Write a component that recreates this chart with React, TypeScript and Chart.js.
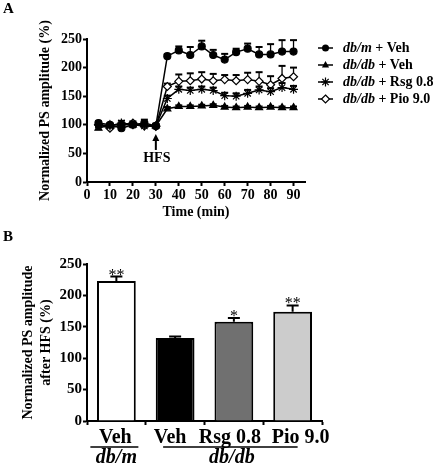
import React, { useEffect, useRef } from 'react';
import { Chart, registerables } from 'chart.js';

Chart.register(...registerables);

const FONT = "'Liberation Serif', 'Times New Roman', serif";

// ---------- Panel A data ----------
const times = [5, 10, 15, 20, 25, 30, 35, 40, 45, 50, 55, 60, 65, 70, 75, 80, 85, 90];
const xTicks = [0, 10, 20, 30, 40, 50, 60, 70, 80, 90];

const dbmVeh = [103, 100, 94, 100, 103, 98, 220, 230, 222, 237, 222, 214, 227, 233, 223, 223, 228, 228];
const dbmVehErr = [3, 2, 3, 3, 6, 3, 3, 7, 14, 10, 9, 10, 6, 9, 13, 18, 20, 20];

const dbdbVeh = [94, 100, 100, 100, 100, 98, 128, 132, 132, 133, 134, 131, 130, 131, 130, 131, 130, 130];
const dbdbVehErr = [3, 2, 2, 2, 2, 2, 3, 2, 2, 2, 2, 2, 2, 2, 2, 2, 2, 2];

const dbdbRsg = [100, 98, 103, 100, 98, 98, 146, 162, 160, 162, 160, 151, 150, 155, 161, 158, 165, 162];
const dbdbRsgErr = [3, 3, 4, 3, 3, 3, 5, 5, 5, 5, 5, 5, 5, 6, 6, 6, 8, 6];

const dbdbPio = [100, 94, 100, 103, 98, 97, 167, 176, 177, 180, 177, 179, 177, 179, 176, 170, 181, 184];
const dbdbPioErr = [3, 3, 3, 3, 3, 3, 5, 12, 13, 12, 12, 8, 10, 12, 16, 15, 22, 16];

const legendItalic = ['db/m', 'db/db', 'db/db', 'db/db'];
const legendRest = [' + Veh', ' + Veh', ' + Rsg 0.8', ' + Pio 9.0'];
const markerStyles = ['circle', 'triangle', 'star', 'rectRot'];

// ---------- Panel B data ----------
const barLabels = ['Veh', 'Veh', 'Rsg 0.8', 'Pio 9.0'];
const barValues = [223, 132, 158, 174];
const barErr = [7, 2.5, 6, 10];
const barSig = ['**', '', '*', '**'];
const barColors = ['#ffffff', '#000000', '#707070', '#cccccc'];
const groupLabels = ['db/m', 'db/db'];

const seriesA = [
  { values: dbmVeh, err: dbmVehErr },
  { values: dbdbVeh, err: dbdbVehErr },
  { values: dbdbRsg, err: dbdbRsgErr },
  { values: dbdbPio, err: dbdbPioErr },
];

function drawMarker(ctx: CanvasRenderingContext2D, style: string, x: number, y: number) {
  ctx.save();
  ctx.strokeStyle = '#000';
  ctx.fillStyle = '#000';
  ctx.lineWidth = 1.2;
  ctx.beginPath();
  if (style === 'circle') {
    ctx.arc(x, y, 3.5, 0, Math.PI * 2);
    ctx.fill();
  } else if (style === 'triangle') {
    const r = 4;
    ctx.moveTo(x, y - r);
    ctx.lineTo(x + r * 0.9, y + r * 0.6);
    ctx.lineTo(x - r * 0.9, y + r * 0.6);
    ctx.closePath();
    ctx.fill();
  } else if (style === 'star') {
    const r = 4.5;
    for (let k = 0; k < 4; k++) {
      const a = (k * Math.PI) / 4;
      ctx.moveTo(x + r * Math.cos(a), y + r * Math.sin(a));
      ctx.lineTo(x - r * Math.cos(a), y - r * Math.sin(a));
    }
    ctx.stroke();
  } else if (style === 'rectRot') {
    const r = 4;
    ctx.moveTo(x, y - r);
    ctx.lineTo(x + r, y);
    ctx.lineTo(x, y + r);
    ctx.lineTo(x - r, y);
    ctx.closePath();
    ctx.fillStyle = '#fff';
    ctx.fill();
    ctx.stroke();
  }
  ctx.restore();
}

const errorBarsA = {
  id: 'errorBarsA',
  beforeDatasetsDraw(chart: any) {
    const { ctx, scales } = chart;
    const xs = scales.x;
    const ys = scales.y;
    ctx.save();
    ctx.strokeStyle = '#000';
    seriesA.forEach((s) => {
      s.values.forEach((v, i) => {
        const x = xs.getPixelForValue(times[i]);
        const y0 = ys.getPixelForValue(v);
        const y1 = ys.getPixelForValue(v + s.err[i]);
        ctx.lineWidth = 1.3;
        ctx.beginPath();
        ctx.moveTo(x, y0);
        ctx.lineTo(x, y1);
        ctx.stroke();
        ctx.lineWidth = 2;
        ctx.beginPath();
        ctx.moveTo(x - 3.5, y1);
        ctx.lineTo(x + 3.5, y1);
        ctx.stroke();
      });
    });
    ctx.restore();
  },
};

const decorA = {
  id: 'decorA',
  afterDraw(chart: any) {
    const { ctx, scales } = chart;
    const xs = scales.x;
    const ys = scales.y;
    ctx.save();
    // panel letter
    ctx.fillStyle = '#000';
    ctx.font = `bold 15px ${FONT}`;
    ctx.textAlign = 'left';
    ctx.textBaseline = 'middle';
    ctx.fillText('A', 3, 9);

    // HFS arrow
    const ax = xs.getPixelForValue(30);
    const tip = ys.getPixelForValue(84);
    const tail = ys.getPixelForValue(56);
    ctx.strokeStyle = '#000';
    ctx.lineWidth = 2;
    ctx.beginPath();
    ctx.moveTo(ax, tip + 5);
    ctx.lineTo(ax, tail);
    ctx.stroke();
    ctx.beginPath();
    ctx.moveTo(ax, tip);
    ctx.lineTo(ax + 3.5, tip + 7);
    ctx.lineTo(ax - 3.5, tip + 7);
    ctx.closePath();
    ctx.fill();
    ctx.font = `bold 14px ${FONT}`;
    ctx.textAlign = 'center';
    ctx.fillText('HFS', ax + 1, ys.getPixelForValue(42));

    // legend
    const lx0 = 318;
    const lx1 = 333;
    const tx = 343;
    const rowY = [48, 65, 82, 99];
    rowY.forEach((y, i) => {
      ctx.strokeStyle = '#000';
      ctx.lineWidth = 1.5;
      ctx.beginPath();
      ctx.moveTo(lx0, y);
      ctx.lineTo(lx1, y);
      ctx.stroke();
      drawMarker(ctx, markerStyles[i], (lx0 + lx1) / 2, y);
      ctx.textAlign = 'left';
      ctx.textBaseline = 'middle';
      ctx.fillStyle = '#000';
      ctx.font = `italic bold 14px ${FONT}`;
      ctx.fillText(legendItalic[i], tx, y);
      const w = ctx.measureText(legendItalic[i]).width;
      ctx.font = `bold 14px ${FONT}`;
      ctx.fillText(legendRest[i], tx + w, y);
    });
    ctx.restore();
  },
};

const errorBarsB = {
  id: 'errorBarsB',
  afterDatasetsDraw(chart: any) {
    const { ctx, scales } = chart;
    const xs = scales.x;
    const ys = scales.y;
    ctx.save();
    ctx.strokeStyle = '#000';
    ctx.fillStyle = '#000';
    ctx.lineWidth = 2;
    barValues.forEach((v, i) => {
      const x = xs.getPixelForValue(i);
      const y0 = ys.getPixelForValue(v);
      const y1 = ys.getPixelForValue(v + barErr[i]);
      ctx.beginPath();
      ctx.moveTo(x, y0);
      ctx.lineTo(x, y1);
      ctx.moveTo(x - 6, y1);
      ctx.lineTo(x + 6, y1);
      ctx.stroke();
      if (barSig[i]) {
        ctx.font = `16px ${FONT}`;
        ctx.textAlign = 'center';
        ctx.textBaseline = 'alphabetic';
        ctx.fillText(barSig[i], x, y1 + 3);
      }
    });
    ctx.restore();
  },
  afterDraw(chart: any) {
    const { ctx, scales } = chart;
    const xs = scales.x;
    ctx.save();
    ctx.fillStyle = '#000';
    ctx.strokeStyle = '#000';
    ctx.font = `bold 15px ${FONT}`;
    ctx.textAlign = 'left';
    ctx.textBaseline = 'middle';
    ctx.fillText('B', 3, 11);

    // category labels (slightly shifted as in the original figure)
    const labelShift = [-1, -5, -4, 8];
    ctx.font = `bold 20px ${FONT}`;
    ctx.textAlign = 'center';
    barLabels.forEach((lab, i) => {
      ctx.fillText(lab, xs.getPixelForValue(i) + labelShift[i], 212);
    });

    const lineY = 221;
    const textY = 232;
    ctx.lineWidth = 1.5;
    ctx.beginPath();
    ctx.moveTo(xs.getPixelForValue(0) - 26, lineY);
    ctx.lineTo(xs.getPixelForValue(0) + 22, lineY);
    ctx.moveTo(xs.getPixelForValue(1) - 12, lineY);
    ctx.lineTo(xs.getPixelForValue(3) + 5, lineY);
    ctx.stroke();
    ctx.font = `italic bold 20px ${FONT}`;
    ctx.textAlign = 'center';
    ctx.fillText(groupLabels[0], xs.getPixelForValue(0), textY);
    ctx.fillText(groupLabels[1], xs.getPixelForValue(2) - 2, textY);
    ctx.restore();
  },
};

const axisGrid = {
  display: true,
  drawOnChartArea: false,
  drawTicks: true,
  tickLength: 4,
  tickWidth: 2,
  tickColor: '#000',
  color: '#000',
};
const axisBorder = { display: true, color: '#000', width: 2 };

export default function App() {
  const refA = useRef<HTMLCanvasElement>(null);
  const refB = useRef<HTMLCanvasElement>(null);

  useEffect(() => {
    const datasetsA = seriesA.map((s, i) => ({
      label: legendItalic[i] + legendRest[i],
      data: s.values.map((v, j) => ({ x: times[j], y: v })),
      borderColor: '#000',
      borderWidth: 1.5,
      tension: 0,
      pointStyle: markerStyles[i],
      pointRadius: i === 0 ? 3.5 : i === 2 ? 4.5 : 4,
      pointBorderWidth: 1.2,
      pointBackgroundColor: i === 3 ? '#fff' : '#000',
      pointBorderColor: '#000',
      fill: false,
    }));

    const chartA = new Chart(refA.current!, {
      type: 'line',
      data: { datasets: datasetsA as any },
      options: {
        responsive: false,
        animation: false,
        devicePixelRatio: 1,
        layout: { padding: { left: 0, right: 131, top: 39, bottom: 0 } },
        plugins: { legend: { display: false }, tooltip: { enabled: false } },
        scales: {
          x: {
            type: 'linear',
            min: 0,
            max: 95,
            afterBuildTicks: (s: any) => {
              s.ticks = xTicks.map((v) => ({ value: v }));
            },
            afterFit: (s: any) => {
              s.height = 44;
            },
            ticks: {
              color: '#000',
              font: { family: FONT, size: 14, weight: 'bold' },
              padding: 1,
              maxRotation: 0,
              autoSkip: false,
            },
            grid: axisGrid,
            border: axisBorder,
            title: {
              display: true,
              text: 'Time (min)',
              color: '#000',
              font: { family: FONT, size: 14, weight: 'bold' },
              padding: { top: 0, bottom: 5.6 },
            },
          },
          y: {
            min: 0,
            max: 250,
            afterFit: (s: any) => {
              s.width = 87;
            },
            ticks: {
              stepSize: 50,
              color: '#000',
              font: { family: FONT, size: 14, weight: 'bold' },
              padding: 1,
            },
            grid: axisGrid,
            border: axisBorder,
            title: {
              display: true,
              text: 'Normalized PS amplitude (%)',
              color: '#000',
              font: { family: FONT, size: 14, weight: 'bold' },
              padding: { top: 37, bottom: 0 },
            },
          },
        },
      } as any,
      plugins: [errorBarsA, decorA],
    });

    const chartB = new Chart(refB.current!, {
      type: 'bar',
      data: {
        labels: barLabels,
        datasets: [
          {
            data: barValues,
            backgroundColor: barColors,
            borderColor: '#000',
            borderWidth: 2,
            barPercentage: 0.66,
            categoryPercentage: 1,
          },
        ],
      },
      options: {
        responsive: false,
        animation: false,
        devicePixelRatio: 1,
        layout: { padding: { left: 0, right: 114, top: 38, bottom: 0 } },
        plugins: { legend: { display: false }, tooltip: { enabled: false } },
        scales: {
          x: {
            afterFit: (s: any) => {
              s.height = 45;
            },
            ticks: {
              display: false,
            },
            grid: axisGrid,
            border: axisBorder,
          },
          y: {
            min: 0,
            max: 250,
            afterFit: (s: any) => {
              s.width = 87;
            },
            ticks: {
              stepSize: 50,
              color: '#000',
              font: { family: FONT, size: 15, weight: 'bold' },
              padding: 1,
            },
            grid: axisGrid,
            border: axisBorder,
            title: {
              display: true,
              text: ['Normalized PS amplitude', 'after HFS (%)'],
              color: '#000',
              font: { family: FONT, size: 14, weight: 'bold', lineHeight: 1.35 },
              padding: { top: 18.5, bottom: 0 },
            },
          },
        },
      } as any,
      plugins: [errorBarsB],
    });

    return () => {
      chartA.destroy();
      chartB.destroy();
    };
  }, []);

  return (
    <div style={{ position: 'fixed', left: 0, top: 0, width: 436, height: 466, background: '#fff' }}>
      <canvas
        ref={refA}
        width={436}
        height={226}
        style={{ position: 'absolute', left: 0, top: 0, display: 'block' }}
      />
      <canvas
        ref={refB}
        width={436}
        height={240}
        style={{ position: 'absolute', left: 0, top: 226, display: 'block' }}
      />
    </div>
  );
}
